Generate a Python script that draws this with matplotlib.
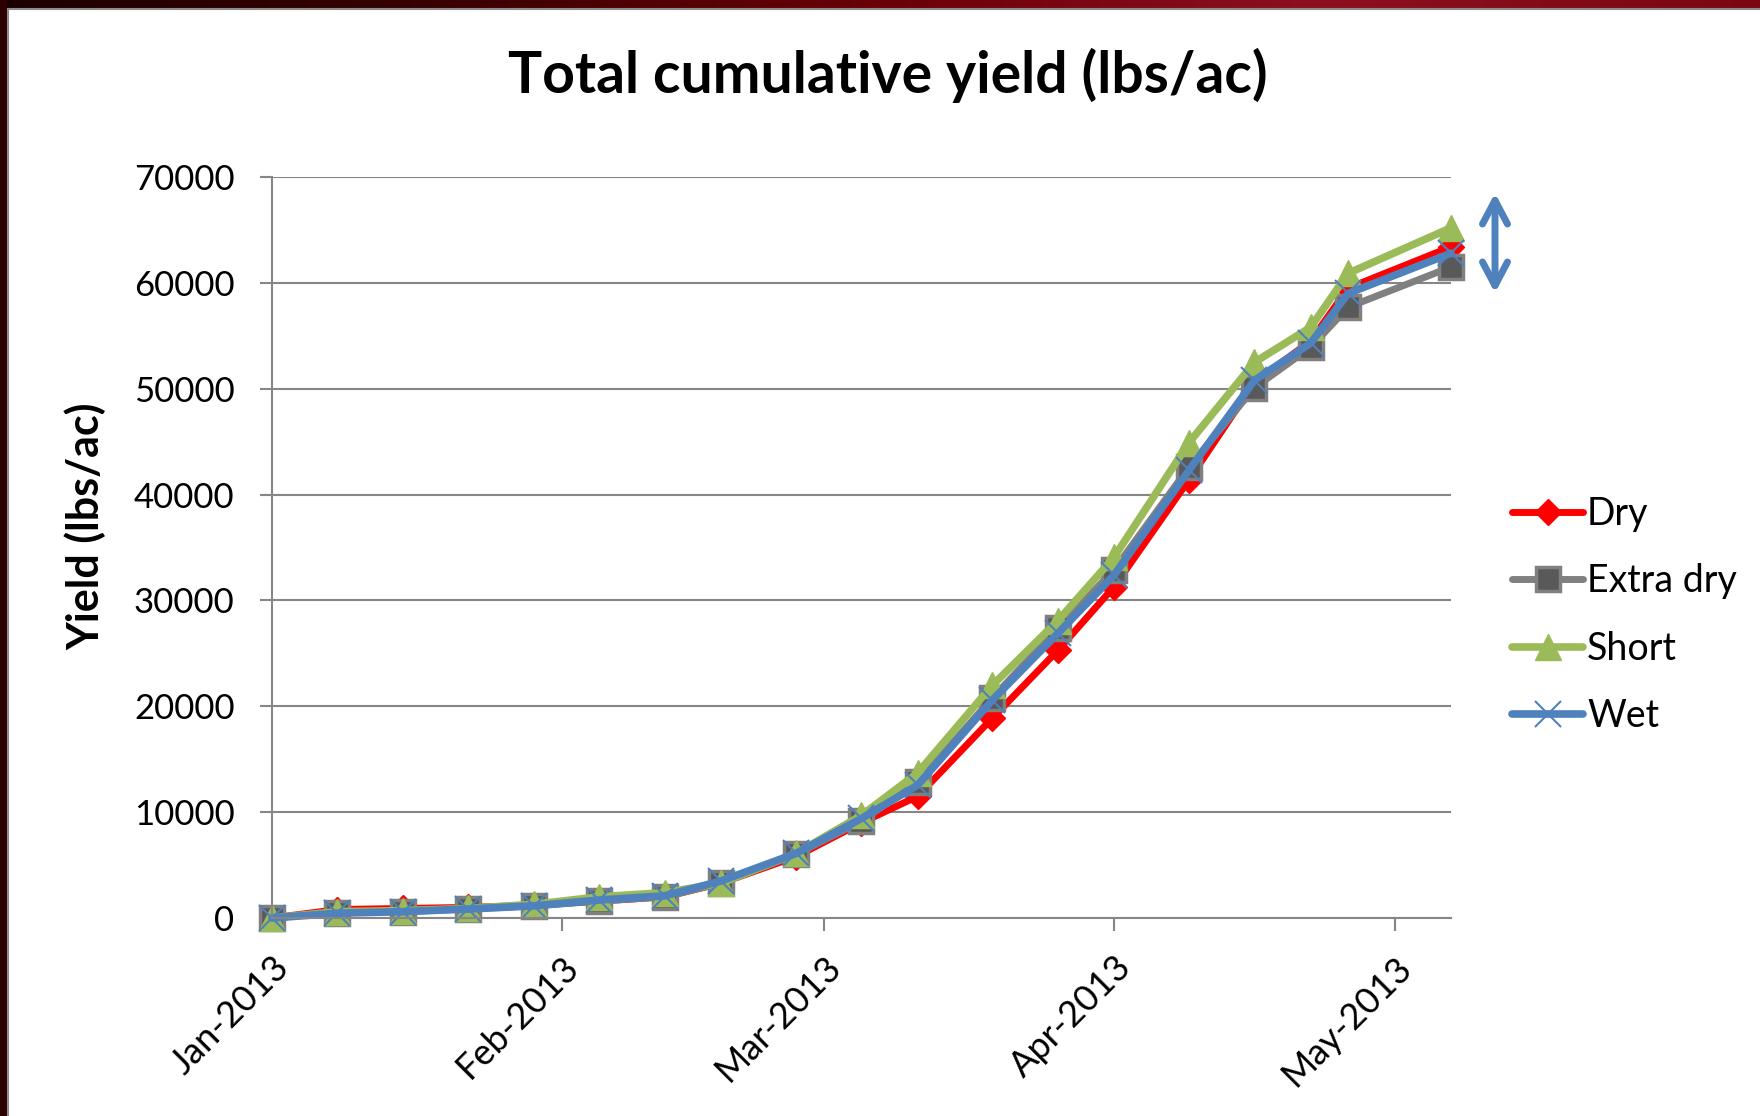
import matplotlib
matplotlib.use('Agg')
import matplotlib.pyplot as plt
import matplotlib.dates as mdates
from matplotlib.colors import LinearSegmentedColormap
from matplotlib.patches import Rectangle
from matplotlib.ticker import FormatStrFormatter
import numpy as np

# harvest dates and cumulative yield (lbs/ac) per treatment
dates = np.array(['2013-01-01', '2013-01-08', '2013-01-15', '2013-01-22', '2013-01-29',
                  '2013-02-05', '2013-02-12', '2013-02-18', '2013-02-26', '2013-03-05',
                  '2013-03-11', '2013-03-19', '2013-03-26', '2013-04-01', '2013-04-09',
                  '2013-04-16', '2013-04-22', '2013-04-26', '2013-05-07'], dtype='datetime64[D]')
dry = [0, 800, 900, 1000, 1200, 1600, 2000, 3300, 5800, 9000,
       11500, 18900, 25300, 31300, 41400, 50600, 54500, 59500, 63400]
extra_dry = [0, 500, 600, 850, 1150, 1600, 2000, 3300, 6000, 9150,
             12850, 20800, 27400, 32900, 42600, 50100, 53900, 57700, 61500]
short = [0, 600, 700, 900, 1300, 2000, 2400, 3300, 6100, 9700,
         13700, 22000, 28100, 34100, 44900, 52500, 55800, 60900, 65200]
wet = [0, 450, 600, 850, 1150, 1700, 2100, 3500, 6100, 9400,
       12550, 20600, 26900, 32400, 42300, 50800, 54300, 59000, 62800]

plt.rcParams['font.family'] = ['Lato', 'DejaVu Sans']

W, H = 1760, 1116
fig = plt.figure(figsize=(W / 100, H / 100), dpi=100)

# slide frame: dark red band on top and left with a thin gray rule
bg = fig.add_axes([0, 0, 1, 1], zorder=-10)
frame_cmap = LinearSegmentedColormap.from_list(
    'frame', ['#1c0000', '#3a0000', '#6a0008', '#8e1020', '#7a0812'])
bg.imshow(np.linspace(0, 1, 256)[None, :], cmap=frame_cmap,
          extent=[0, W, 8, 0], aspect='auto')
bg.add_patch(Rectangle((0, 0), 7, H, color='#2c0000', lw=0))
bg.plot([8, W], [9, 9], color='#8c8c8c', lw=1.5)
bg.plot([8, 8], [9, H], color='#8c8c8c', lw=1.5)
bg.set_xlim(0, W)
bg.set_ylim(H, 0)
bg.axis('off')

ax = fig.add_axes([272 / W, 1 - 918 / H, (1451 - 272) / W, (918 - 177) / H])
ax.plot(dates, dry, color='#FF0000', lw=5, marker='D', ms=13,
        mfc='#FF0000', mec='#FF0000', label='Dry', clip_on=False, solid_capstyle='round')
ax.plot(dates, extra_dry, color='#808080', lw=5, marker='s', ms=17,
        mfc='#595959', mec='#808080', mew=2.5, label='Extra dry', clip_on=False, solid_capstyle='round')
ax.plot(dates, short, color='#9BBB59', lw=5.5, marker='^', ms=19,
        mfc='#9BBB59', mec='#9BBB59', label='Short', clip_on=False, solid_capstyle='round')
ax.plot(dates, wet, color='#4F81BD', lw=5.5, marker='x', ms=19, mew=1.5,
        mec='#4F81BD', label='Wet', clip_on=False, solid_capstyle='round')

ax.set_ylim(0, 70000)
ax.set_yticks(np.arange(0, 70001, 10000))
ax.yaxis.set_major_formatter(FormatStrFormatter('%d'))
ax.set_xlim(dates[0], dates[-1])
ax.xaxis.set_major_locator(mdates.MonthLocator())
ax.xaxis.set_major_formatter(mdates.DateFormatter('%b-%Y'))

ax.grid(axis='y', color='#868686', lw=1.5)
ax.set_axisbelow(True)
for s in ['top', 'right']:
    ax.spines[s].set_visible(False)
for s in ['left', 'bottom']:
    ax.spines[s].set_color('#868686')
    ax.spines[s].set_linewidth(1.5)
ax.tick_params(axis='both', colors='#868686', labelcolor='black',
               width=1.5, length=9, labelsize=25)
ax.tick_params(axis='y', pad=18)
ax.tick_params(axis='x', pad=14, labelsize=26)
for lab in ax.get_xticklabels():
    lab.set_rotation(45)
    lab.set_ha('right')
    lab.set_va('top')
    lab.set_rotation_mode('anchor')

ax.legend(loc='center left', bbox_to_anchor=(1512 / W, 1 - 615 / H),
          bbox_transform=fig.transFigure, frameon=False, fontsize=27,
          handlelength=1.9, handletextpad=0.1, labelspacing=0.84,
          borderpad=0, borderaxespad=0)

fig.text(888 / W, 1 - 93 / H, 'Total cumulative yield (lbs/ac)',
         ha='center', va='baseline', fontsize=41, fontweight='bold')
fig.text(86 / W, 1 - 526 / H, 'Yield (lbs/ac)', rotation=90,
         ha='center', va='center', fontsize=31, fontweight='bold')

# spread between treatments at the last harvest
ax.annotate('', xy=(1495, 923), xytext=(1495, 823), xycoords='figure pixels',
            arrowprops=dict(arrowstyle='<->,head_length=0.85,head_width=0.45',
                            color='#4F81BD', lw=5, mutation_scale=20,
                            capstyle='round', joinstyle='round',
                            shrinkA=0, shrinkB=0))

fig.savefig('out.png', dpi=100)
